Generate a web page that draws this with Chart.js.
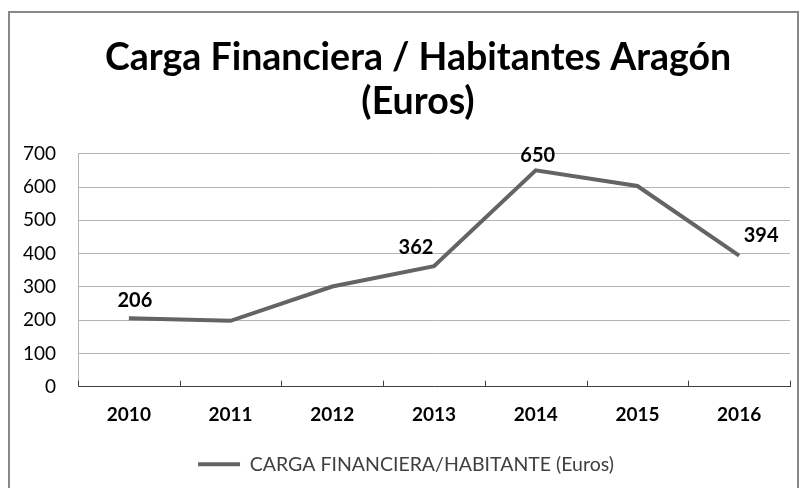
<!DOCTYPE html>
<html>
<head>
<meta charset="utf-8">
<script src="https://cdn.jsdelivr.net/npm/chart.js@4/dist/chart.umd.min.js"></script>
<style>
    html, body { margin: 0; padding: 0; background: #fff; }
    #wrap { position: relative; width: 801px; height: 488px; overflow: hidden; }
    #frame { position: absolute; left: 8px; top: 11px; width: 787px; height: 500px; border: 2px solid #878787; }
    canvas { position: absolute; left: 0; top: 0; }
</style>
</head>
<body>
<div id="wrap">
    <div id="frame"></div>
    <canvas id="chart" width="801" height="488"></canvas>
</div>
<script>
'use strict';

var years = ['2010', '2011', '2012', '2013', '2014', '2015', '2016'];
var cargaHabitante = [206, 198, 301, 362, 650, 603, 394];
var labelledYears = ['2010', '2013', '2014', '2016'];
var yTicks = [0, 100, 200, 300, 400, 500, 600, 700];

var seriesName = 'CARGA FINANCIERA/HABITANTE (Euros)';
var titleLines = ['Carga Financiera / Habitantes Aragón', '(Euros)'];

// where each value label sits relative to its point (Excel put them around the line)
var labelOffsets = {
    '2010': [6, -18],
    '2013': [-18, -19],
    '2014': [2, -15],
    '2016': [22, -20]
};

// the excel title is centred a bit right of the page centre
var titleNudge = {
    id: 'titleNudge',
    afterLayout: function (chart) {
        if (chart.titleBlock) {
            chart.titleBlock.left += 12;
            chart.titleBlock.right += 12;
        }
    }
};

// small upward tick marks on the category axis
var upTicks = {
    id: 'upTicks',
    afterDraw: function (chart) {
        var xs = chart.scales.x;
        var ctx = chart.ctx;
        var n = years.length;
        var step = xs.width / n;
        ctx.save();
        ctx.strokeStyle = '#404040';
        ctx.lineWidth = 1;
        ctx.beginPath();
        for (var i = 0; i <= n; i++) {
            var x = Math.round(xs.left + i * step) + 0.5;
            ctx.moveTo(x, chart.chartArea.bottom);
            ctx.lineTo(x, chart.chartArea.bottom - 6);
        }
        ctx.stroke();
        ctx.restore();
    }
};

var valueLabels = {
    id: 'valueLabels',
    afterDatasetsDraw: function (chart) {
        var ctx = chart.ctx;
        var meta = chart.getDatasetMeta(0);
        ctx.save();
        ctx.font = 'bold 20px Lato';
        ctx.fillStyle = '#000';
        ctx.textAlign = 'center';
        ctx.textBaseline = 'middle';
        labelledYears.forEach(function (yr) {
            var i = years.indexOf(yr);
            var pt = meta.data[i];
            var off = labelOffsets[yr];
            ctx.fillText(String(cargaHabitante[i]), pt.x + off[0], pt.y + off[1]);
        });
        ctx.restore();
    }
};

var ctx = document.getElementById('chart');
var myChart = new Chart(ctx, {
    type: 'line',
    data: {
        labels: years,
        datasets: [{
            label: seriesName,
            data: cargaHabitante,
            borderColor: '#646464',
            backgroundColor: '#646464',
            borderWidth: 4,
            pointRadius: 0,
            tension: 0,
            fill: false
        }]
    },
    options: {
        responsive: false,
        animation: false,
        layout: { padding: { left: 22, right: 11, top: 0, bottom: 4 } },
        plugins: {
            title: {
                display: true,
                text: titleLines,
                color: '#000',
                font: { family: 'Lato', size: 37.5, weight: 'bold', lineHeight: 1.17 },
                padding: { top: 36, bottom: 30 }
            },
            legend: {
                position: 'bottom',
                labels: {
                    color: '#404040',
                    font: { family: 'Lato', size: 19.5 },
                    usePointStyle: true,
                    pointStyle: 'line',
                    pointStyleWidth: 42,
                    padding: 11
                }
            },
            tooltip: { enabled: false }
        },
        scales: {
            x: {
                offset: true,
                grid: { display: false, drawTicks: false },
                border: { display: true, color: '#404040', width: 1 },
                ticks: {
                    color: '#000',
                    padding: 17,
                    font: { family: 'Lato', size: 19, weight: 'bold' }
                }
            },
            y: {
                min: 0,
                max: 700,
                afterBuildTicks: function (axis) {
                    axis.ticks = yTicks.map(function (v) { return { value: v }; });
                },
                afterFit: function (axis) { axis.width = 56; },
                grid: { color: '#b4b4b4', lineWidth: 1, drawTicks: false },
                border: { display: true, color: '#b4b4b4', width: 1 },
                ticks: {
                    color: '#000',
                    padding: 22,
                    font: { family: 'Lato', size: 19 }
                }
            }
        }
    },
    plugins: [titleNudge, upTicks, valueLabels]
});
</script>
</body>
</html>
